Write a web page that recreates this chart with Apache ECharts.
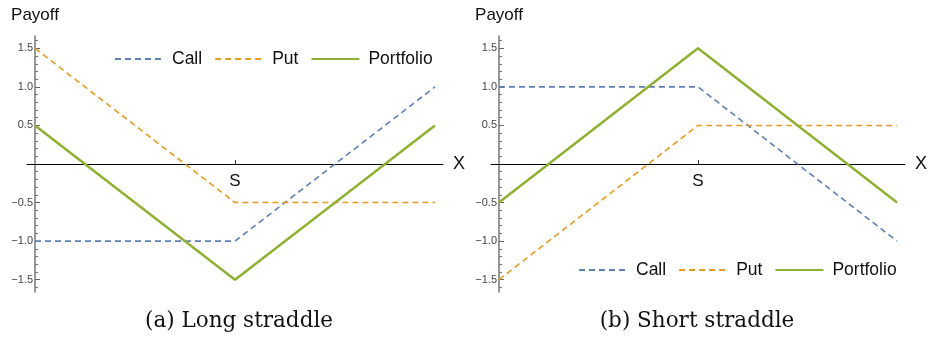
<!DOCTYPE html>
<html>
<head>
<meta charset="utf-8">
<script src="https://cdn.jsdelivr.net/npm/echarts@6/dist/echarts.min.js"></script>
<style>
  html, body { margin: 0; padding: 0; background: #fff; }
  #main { width: 930px; height: 339px; }
</style>
</head>
<body>
<div id="main"></div>
<script>
// stock price positions: 0 = left, 1 = strike S, 2 = right
const xs = [0, 1, 2];
const seriesNames = ['Call', 'Put', 'Portfolio'];
// (a) long straddle
const longCall = [-1, -1, 1];
const longPut = [1.5, -0.5, -0.5];
const longPortfolio = [0.5, -1.5, 0.5];
// (b) short straddle
const shortCall = [1, 1, -1];
const shortPut = [-1.5, 0.5, 0.5];
const shortPortfolio = [-0.5, 1.5, -0.5];
// axis labels
const yTickValues = [-1.5, -1, -0.5, 0.5, 1, 1.5];
const xTickValues = [1];
const xTickLabel = 'S';
const captions = ['(a) Long straddle', '(b) Short straddle'];

const colors = ['#5E81B5', '#E19C24', '#8FB032'];
const font = '"Liberation Sans", Arial, sans-serif';
const serif = '"DejaVu Serif", "Liberation Serif", serif';

// minor ticks every 0.1 on the y axis (not on the majors)
let minorTicks = [];
for (let i = -16; i <= 16; i++) {
  if (i % 5 !== 0) minorTicks.push(i / 10);
}

function pairs(ys) {
  return xs.map((x, i) => [x, ys[i]]);
}

const xMin = -0.04, xMax = 2.04, yMin = -1.66, yMax = 1.66;
const grids = [
  { left: 27, top: 36, width: 416, height: 256 },
  { left: 491, top: 36, width: 416, height: 256 }
];

let xAxis = [], yAxis = [], series = [], legend = [], title = [];
grids.forEach((g, gi) => {
  // move the axes onto the zero lines with offsets
  const xOff = -Math.round(g.height * (0 - yMin) / (yMax - yMin));
  const yOff = -Math.round(g.width * (0 - xMin) / (xMax - xMin));
  xAxis.push({
    type: 'value', gridIndex: gi, min: xMin, max: xMax, position: 'bottom', offset: xOff,
    axisLine: { onZero: false, lineStyle: { color: '#000', width: 1 } },
    axisTick: { customValues: xTickValues, inside: true, length: 4, lineStyle: { color: '#333' } },
    axisLabel: { customValues: xTickValues, formatter: () => xTickLabel, fontSize: 17, color: '#111', fontFamily: font, margin: 9 },
    splitLine: { show: false },
    name: 'X', nameLocation: 'end', nameGap: 10,
    nameTextStyle: { fontSize: 18, color: '#111', fontFamily: font, verticalAlign: 'middle' }
  });
  yAxis.push({
    type: 'value', gridIndex: gi, min: yMin, max: yMax, position: 'left', offset: yOff,
    axisLine: { onZero: false, lineStyle: { color: '#777', width: 1.5 } },
    axisTick: { customValues: yTickValues, inside: true, length: 5, lineStyle: { color: '#666' } },
    axisLabel: {
      customValues: yTickValues, margin: 2, fontSize: 11, color: '#444', fontFamily: font,
      formatter: v => v.toFixed(1).replace('-', '\u2212')
    },
    splitLine: { show: false },
    name: 'Payoff', nameLocation: 'end', nameGap: 12,
    nameTextStyle: { fontSize: 17, color: '#111', fontFamily: font }
  });
  // second axis only for the minor ticks
  yAxis.push({
    type: 'value', gridIndex: gi, min: yMin, max: yMax, position: 'left', offset: yOff,
    axisLine: { show: false, onZero: false },
    axisTick: { customValues: minorTicks, inside: true, length: 3, lineStyle: { color: '#777' } },
    axisLabel: { show: false },
    splitLine: { show: false }
  });
});

const panels = [
  [longCall, longPut, longPortfolio],
  [shortCall, shortPut, shortPortfolio]
];
panels.forEach((sets, gi) => {
  sets.forEach((ys, si) => {
    series.push({
      name: seriesNames[si], type: 'line', xAxisIndex: gi, yAxisIndex: gi * 2,
      data: pairs(ys), symbol: 'none', animation: false,
      lineStyle: si < 2
        ? { color: colors[si], width: 1.6, type: [6, 4] }
        : { color: colors[si], width: 2.5 },
      itemStyle: { color: colors[si] }
    });
  });
});

const legendBase = {
  data: seriesNames, itemWidth: 48, itemHeight: 14, itemGap: 12, padding: 0,
  itemStyle: { opacity: 0 },
  textStyle: { fontSize: 17.5, color: '#111', fontFamily: font, padding: [0, 0, 0, 4] }
};
legend.push(Object.assign({ left: 114, top: 50 }, legendBase));
legend.push(Object.assign({ left: 578, top: 261 }, legendBase));

title.push({ text: captions[0], left: 239, top: 310, textAlign: 'center', padding: 0,
  textStyle: { fontSize: 21.5, fontWeight: 'normal', color: '#111', fontFamily: serif } });
title.push({ text: captions[1], left: 697, top: 310, textAlign: 'center', padding: 0,
  textStyle: { fontSize: 21.5, fontWeight: 'normal', color: '#111', fontFamily: serif } });

let myChart = echarts.init(document.getElementById('main'));
myChart.setOption({
  backgroundColor: '#fff',
  animation: false,
  title: title,
  legend: legend,
  grid: grids,
  xAxis: xAxis,
  yAxis: yAxis,
  series: series
});
</script>
</body>
</html>
